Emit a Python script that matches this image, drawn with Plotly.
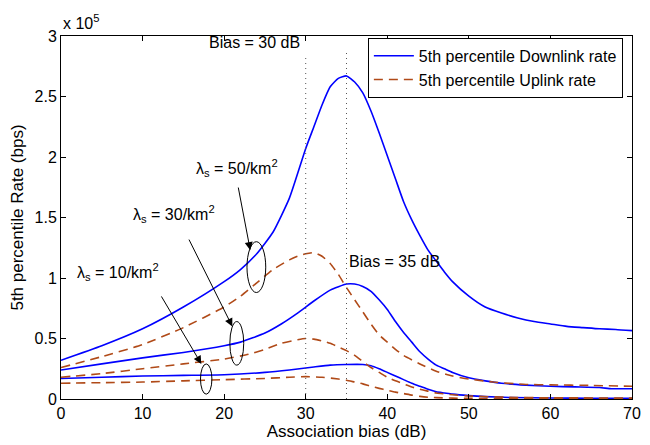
import plotly.graph_objects as go

# Association bias (dB) and 5th percentile rates (units of 1e5 bps)
dl50_x = [0, 5, 10, 15, 20, 22, 24, 26, 28, 30, 31, 32, 33, 34, 35, 36, 37, 38, 39, 40, 41, 42, 43, 44, 45, 46, 47, 48, 50, 52, 54, 56, 58, 60, 62, 64, 66, 68, 70]
dl50_y = [0.32, 0.44, 0.58, 0.76, 0.97, 1.07, 1.20, 1.38, 1.66, 2.07, 2.25, 2.43, 2.58, 2.65, 2.67, 2.62, 2.53, 2.38, 2.20, 2.01, 1.82, 1.63, 1.48, 1.35, 1.23, 1.14, 1.05, 0.97, 0.85, 0.76, 0.71, 0.67, 0.64, 0.62, 0.60, 0.59, 0.58, 0.575, 0.565]

dl30_x = [0, 5, 10, 15, 20, 22, 25, 27, 29, 31, 33, 35, 36, 37, 38, 39, 40, 41, 42, 43, 44, 45, 46, 47, 48, 50, 52, 54, 57, 60, 63, 66, 67.5, 70]
dl30_y = [0.24, 0.29, 0.34, 0.385, 0.44, 0.47, 0.545, 0.62, 0.71, 0.81, 0.90, 0.95, 0.95, 0.93, 0.89, 0.82, 0.74, 0.64, 0.55, 0.47, 0.39, 0.33, 0.28, 0.25, 0.22, 0.175, 0.15, 0.13, 0.115, 0.105, 0.10, 0.095, 0.085, 0.085]

dl10_x = [0, 5, 10, 15, 20, 25, 28, 31, 33, 35, 37, 38, 39, 40, 41, 42, 43, 44, 45, 46, 47, 48, 50, 52, 55, 60, 65, 70]
dl10_y = [0.17, 0.18, 0.19, 0.195, 0.20, 0.22, 0.24, 0.265, 0.28, 0.285, 0.285, 0.275, 0.25, 0.22, 0.19, 0.16, 0.13, 0.105, 0.08, 0.06, 0.05, 0.04, 0.028, 0.02, 0.013, 0.008, 0.006, 0.005]

ul50_x = [0, 5, 10, 15, 20, 22, 24, 26, 28, 29, 30, 31, 32, 33, 34, 35, 36, 37, 38, 39, 40, 41, 42, 44, 46, 48, 50, 53, 57, 60, 65, 70]
ul50_y = [0.26, 0.35, 0.45, 0.59, 0.76, 0.85, 0.96, 1.07, 1.15, 1.18, 1.20, 1.21, 1.18, 1.12, 1.03, 0.92, 0.82, 0.72, 0.62, 0.53, 0.47, 0.41, 0.36, 0.29, 0.23, 0.19, 0.165, 0.14, 0.12, 0.117, 0.112, 0.105]

ul30_x = [0, 5, 10, 15, 20, 23, 25, 27, 29, 30, 31, 32, 33, 34, 35, 36, 37, 38, 39, 40, 41, 42, 43, 44, 45, 46, 48, 50, 55, 60, 70]
ul30_y = [0.18, 0.21, 0.25, 0.29, 0.33, 0.37, 0.41, 0.46, 0.49, 0.50, 0.495, 0.48, 0.46, 0.43, 0.40, 0.36, 0.31, 0.26, 0.22, 0.18, 0.15, 0.125, 0.10, 0.08, 0.065, 0.05, 0.035, 0.025, 0.014, 0.01, 0.008]

ul10_x = [0, 5, 10, 15, 20, 25, 28, 30, 32, 34, 35, 36, 37, 38, 39, 40, 41, 42, 43, 44, 45, 46, 48, 50, 60, 70]
ul10_y = [0.13, 0.135, 0.14, 0.15, 0.16, 0.17, 0.18, 0.185, 0.18, 0.165, 0.155, 0.14, 0.125, 0.105, 0.088, 0.072, 0.057, 0.045, 0.032, 0.022, 0.015, 0.011, 0.007, 0.005, 0.004, 0.004]

bias_marks = [30, 35]
x_ticks = [0, 10, 20, 30, 40, 50, 60, 70]
y_ticks = [0, 0.5, 1, 1.5, 2, 2.5, 3]
y_tick_labels = ["0", "0.5", "1", "1.5", "2", "2.5", "3"]

BLUE = "#0000ff"
BROWN = "#b04a18"
FONT = "Liberation Sans"
FS = 16

fig = go.Figure()

dl = [(dl50_x, dl50_y), (dl30_x, dl30_y), (dl10_x, dl10_y)]
ul = [(ul50_x, ul50_y), (ul30_x, ul30_y), (ul10_x, ul10_y)]

for i, (xs, ys) in enumerate(dl):
    fig.add_trace(go.Scatter(x=xs, y=ys, mode="lines",
                             line=dict(color=BLUE, width=1.6, shape="spline", smoothing=0.5),
                             name="5th percentile Downlink rate", showlegend=(i == 0)))
for i, (xs, ys) in enumerate(ul):
    fig.add_trace(go.Scatter(x=xs, y=ys, mode="lines",
                             line=dict(color=BROWN, width=1.6, dash="9px,6px", shape="spline", smoothing=0.5),
                             name="5th percentile Uplink rate", showlegend=(i == 0)))

# dotted vertical bias lines
for b, top in zip(bias_marks, [2.84, 2.88]):
    fig.add_trace(go.Scatter(x=[b, b], y=[0, top], mode="lines",
                             line=dict(color="#555555", width=1, dash="1px,4px"),
                             showlegend=False, hoverinfo="skip"))

shapes = []
# ellipses grouping curves
for (x0, x1, y0, y1) in [(22.8, 25.1, 0.88, 1.30), (20.7, 22.4, 0.28, 0.64), (17.1, 18.5, 0.04, 0.29)]:
    shapes.append(dict(type="circle", xref="x", yref="y", x0=x0, x1=x1, y0=y0, y1=y1,
                       line=dict(color="black", width=1)))

annotations = []
# arrows
for (tx, ty, hx, hy) in [(21.7, 1.76, 23.2, 1.23), (15.6, 1.33, 21.0, 0.60), (12.2, 0.86, 17.2, 0.29)]:
    annotations.append(dict(x=hx, y=hy, ax=tx, ay=ty, xref="x", yref="y", axref="x", ayref="y",
                            text="", showarrow=True, arrowhead=2, arrowsize=1.6, arrowwidth=1,
                            arrowcolor="black"))
# labels
for (x, y, txt) in [(21.6, 1.91, "λ<sub>s</sub> = 50/km<sup>2</sup>"),
                    (13.8, 1.53, "λ<sub>s</sub> = 30/km<sup>2</sup>"),
                    (7.0, 1.05, "λ<sub>s</sub> = 10/km<sup>2</sup>")]:
    annotations.append(dict(x=x, y=y, xref="x", yref="y", text=txt, showarrow=False,
                            xanchor="center", yanchor="middle", font=dict(family=FONT, size=FS, color="black")))
annotations.append(dict(x=29.6, y=2.95, xref="x", yref="y", text="Bias = 30 dB", showarrow=False,
                        xanchor="right", yanchor="middle", font=dict(family=FONT, size=FS, color="black")))
annotations.append(dict(x=35.1, y=1.14, xref="x", yref="y", text="Bias = 35 dB", showarrow=False,
                        xanchor="left", yanchor="middle", font=dict(family=FONT, size=FS, color="black")))
annotations.append(dict(x=0.0, y=1.0, xref="paper", yref="paper", text="x 10<sup>5</sup>",
                        showarrow=False, xanchor="left", yanchor="bottom", yshift=2,
                        font=dict(family=FONT, size=FS, color="black")))

fig.update_layout(
    width=650, height=445,
    margin=dict(l=61, r=9, t=36, b=43),
    paper_bgcolor="white", plot_bgcolor="white",
    font=dict(family=FONT, size=FS, color="black"),
    showlegend=True,
    legend=dict(x=0.984, y=0.995, xanchor="right", yanchor="top",
                bordercolor="black", borderwidth=1, bgcolor="white",
                font=dict(family=FONT, size=FS, color="black"),
                tracegroupgap=0, itemwidth=40),
    shapes=shapes,
    annotations=annotations,
)
fig.update_xaxes(range=[0, 70], tickvals=x_ticks, ticks="inside", ticklen=5, tickcolor="black",
                 showline=True, linecolor="black", linewidth=1, mirror="ticks",
                 showgrid=False, zeroline=False,
                 title=dict(text="Association bias (dB)", standoff=2, font=dict(family=FONT, size=17)),
                 tickfont=dict(family=FONT, size=FS))
fig.update_yaxes(range=[0, 3], tickvals=y_ticks, ticktext=y_tick_labels, ticks="inside", ticklen=5,
                 tickcolor="black", showline=True, linecolor="black", linewidth=1, mirror="ticks",
                 showgrid=False, zeroline=False,
                 title=dict(text="5th percentile Rate (bps)", standoff=6, font=dict(family=FONT, size=17)),
                 tickfont=dict(family=FONT, size=FS))

fig.write_html("out.html")
